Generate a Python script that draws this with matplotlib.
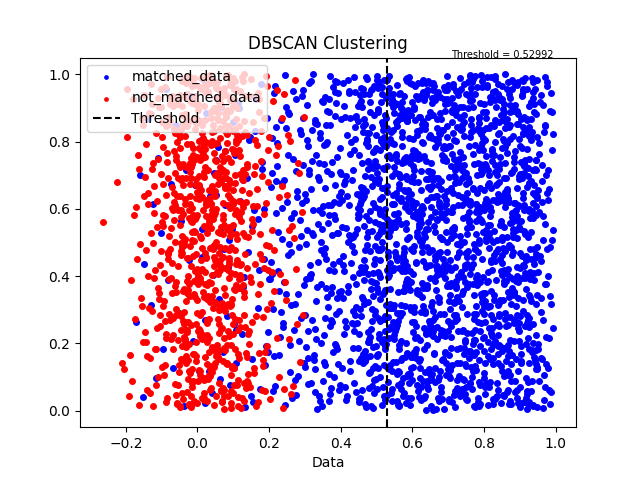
import numpy as np
import matplotlib
matplotlib.use('Agg')
from matplotlib import pyplot as plt

threshold = 0.52992

# point coordinates, in thousandths of a data unit
matched_x = [
    # right edge, thinning out
    951, 953, 955, 958, 960, 962, 963, 965, 967, 969, 970, 972, 974, 975, 977, 979, 981, 983, 985, 988, 990, 993,
    952, 956, 959, 961, 964, 966, 968, 971, 973, 976, 978, 980, 982, 986, 989, 994, 954, 957, 962, 967, 970, 974,
    978, 984, 987, 991, 950, 955, 960, 965, 971, 976, 981, 985, 992, 958, 964, 969,
    # far left, hidden under the red cloud
    -172, -161, -153, -148, -139, -131, -124, -117, -109, -102, -96, -88, -81, -75, -67, -59, -52, -46, -38, -31,
    -24, -19, -13, -8, -4,
    3, 9, 14, 22, 27, 35, 41, 48, 53, 60, 66, 71, 78, 84, 91, 97, 104, 109, 115, 122, 128, 133, 140, 146, 151, 158,
    163, 170, 176, 181, 187, 193, 198, 6, 18, 31, 44, 57, 69, 82, 95, 107, 119, 131, 144, 156, 168, 179, 191,
    12, 25, 38, 52, 64, 77, 89, 101, 113, 126, 138, 149, 161, 173, 185, 196, 20, 47, 73, 99, 125, 152, 178, 189,
    # 0.2 - 0.3
    201, 204, 208, 211, 214, 217, 220, 223, 226, 229, 232, 235, 238, 241, 244, 247, 250, 253, 256, 259, 262, 265,
    268, 271, 274, 277, 280, 283, 286, 289, 292, 295, 298, 202, 207, 212, 218, 224, 230, 236, 242, 248, 254, 260,
    266, 272, 278, 284, 290, 296, 205, 213, 221, 228, 237, 245, 252, 261, 269, 276, 285, 293, 299, 209, 219, 233,
    246, 258, 270, 281, 294, 216, 239, 257, 275, 288, 297,
    # 0.3 - 0.4
    300, 302, 305, 307, 310, 312, 315, 317, 320, 322, 325, 327, 330, 332, 335, 337, 340, 342, 345, 347, 350, 352,
    355, 357, 360, 362, 365, 367, 370, 372, 375, 377, 380, 382, 385, 387, 390, 392, 395, 397, 301, 304, 308, 311,
    314, 318, 321, 324, 328, 331, 334, 338, 341, 344, 348, 351, 354, 358, 361, 364, 368, 371, 374, 378, 381, 384,
    388, 391, 394, 398, 303, 309, 316, 323, 329, 336, 343, 349, 356, 363, 369, 376, 383, 389, 396, 306, 313, 319,
    326, 333, 339, 346, 353, 359, 366, 373, 379, 386, 393, 399, 304, 311, 321, 329, 338, 347, 356, 366, 374, 383,
    392, 336, 352, 368, 385, 397, 309, 327, 344, 361, 379, 395, 318, 355, 373, 389, 351, 358, 364, 371, 377, 384,
    390, 396, 353, 367, 381, 394,
    # 0.4 - 0.5
    400, 402, 404, 406, 408, 410, 412, 414, 416, 418, 420, 422, 424, 426, 428, 430, 432, 434, 436, 438, 440, 442,
    444, 446, 448, 450, 452, 454, 456, 458, 460, 462, 464, 466, 468, 470, 472, 474, 476, 478, 480, 482, 484, 486,
    488, 490, 492, 494, 496, 498, 401, 405, 409, 413, 417, 421, 425, 429, 433, 437, 441, 445, 449, 453, 457, 461,
    465, 469, 473, 477, 481, 485, 489, 493, 497, 403, 407, 411, 415, 419, 423, 427, 431, 435, 439, 443, 447, 451,
    455, 459, 463, 467, 471, 475, 479, 483, 487, 491, 495, 499, 404, 411, 418, 426, 433, 440, 447, 455, 462, 469,
    476, 484, 491, 498, 409, 422, 436, 449, 463, 477, 490, 451, 453, 455, 457, 459, 461, 463, 465, 467, 469, 471,
    473, 475, 477, 479, 481, 483, 485, 487, 489, 491, 493, 495, 497, 499, 452, 456, 460, 464, 468, 472, 476, 480,
    484, 488, 492, 496, 458, 466, 474, 482, 490, 498, 454, 470, 486, 431, 436, 441, 446, 451, 456, 461, 466, 471,
    476, 481, 486, 491, 496, 444, 459, 473, 488, 495, 438, 462, 480, 402, 414, 427, 439, 452, 465, 478, 493, 406,
    420, 434, 448, 467, 485, 497,
    # 0.5 - 0.95, the dense block
    500, 509, 517, 528, 535, 546, 553, 561, 572, 580, 589, 597, 606, 614, 625, 633, 641, 650, 658, 669, 677, 686,
    694, 703, 711, 720, 731, 739, 748, 756, 764, 773, 782, 790, 799, 808, 816, 825, 834, 842, 851, 859, 868, 877,
    885, 894, 903, 911, 920, 928, 937, 946,
    503, 511, 522, 530, 539, 548, 556, 565, 574, 583, 591, 600, 609, 618, 627, 636, 644, 653, 662, 671, 680, 688,
    697, 706, 715, 724, 733, 742, 751, 759, 768, 777, 786, 795, 803, 812, 821, 830, 839, 848, 856, 865, 874, 883,
    892, 900, 909, 918, 927, 935, 944,
    505, 514, 524, 533, 541, 550, 559, 568, 577, 586, 595, 603, 612, 621, 630, 639, 647, 656, 665, 674, 683, 692,
    700, 709, 718, 727, 736, 745, 754, 762, 771, 780, 789, 798, 806, 815, 824, 833, 842, 850, 859, 868, 877, 886,
    895, 903, 912, 921, 930, 939, 948,
    501, 507, 519, 526, 537, 543, 555, 562, 570, 581, 587, 598, 604, 616, 622, 634, 639, 651, 657, 668, 674, 685,
    691, 702, 708, 719, 725, 737, 743, 754, 760, 771, 777, 788, 794, 805, 811, 823, 829, 840, 846, 857, 863, 875,
    881, 892, 898, 909, 915, 926, 932, 943, 949,
    502, 513, 520, 531, 538, 549, 557, 566, 573, 584, 592, 601, 608, 619, 626, 637, 645, 654, 661, 672, 679, 690,
    698, 707, 714, 725, 732, 743, 750, 761, 769, 778, 785, 796, 804, 813, 820, 831, 838, 849, 857, 866, 873, 884,
    891, 902, 910, 919, 926, 937, 945,
    506, 515, 523, 532, 540, 551, 558, 567, 576, 585, 593, 602, 611, 620, 628, 637, 646, 655, 663, 672, 681, 690,
    699, 707, 716, 725, 734, 742, 751, 760, 769, 778, 786, 795, 804, 813, 821, 830, 839, 848, 857, 865, 874, 883,
    892, 900, 909, 918, 927, 936, 944,
    504, 510, 518, 529, 536, 544, 554, 563, 571, 579, 588, 596, 607, 615, 623, 632, 640, 649, 659, 666, 676, 684,
    693, 701, 710, 718, 728, 735, 745, 753, 762, 770, 779, 787, 797, 805, 814, 822, 832, 840, 849, 858, 866, 876,
    884, 893, 901, 911, 919, 929, 938, 947,
    508, 516, 525, 534, 542, 552, 560, 569, 578, 586, 594, 605, 613, 622, 631, 638, 648, 656, 664, 673, 682, 689,
    700, 708, 717, 726, 734, 744, 752, 761, 770, 779, 788, 796, 805, 814, 823, 832, 841, 849, 858, 867, 876, 885,
    894, 902, 911, 920, 929, 938, 946,
    500, 512, 521, 527, 539, 545, 556, 564, 575, 582, 590, 599, 610, 617, 629, 635, 643, 652, 660, 670, 678, 687,
    695, 705, 712, 722, 730, 740, 747, 757, 765, 774, 781, 791, 800, 807, 818, 826, 835, 843, 852, 861, 870, 878,
    887, 896, 905, 914, 923, 931, 940, 949,
    503, 509, 520, 528, 537, 547, 553, 564, 571, 580, 591, 598, 607, 616, 624, 633, 642, 651, 660, 668, 678, 686,
    696, 704, 713, 721, 730, 739, 748, 757, 765, 775, 783, 793, 801, 810, 819, 828, 836, 845, 854, 863, 872, 880,
    889, 898, 907, 916, 925, 933, 942,
    506, 517, 524, 535, 543, 551, 562, 570, 579, 588, 597, 605, 614, 624, 632, 640, 650, 659, 667, 675, 684, 694,
    702, 711, 719, 729, 738, 746, 755, 763, 772, 781, 790, 800, 808, 817, 826, 834, 843, 853, 862, 871, 879, 888,
    897, 906, 915, 923, 932, 941, 950,
    501, 511, 519, 530, 540, 548, 558, 567, 575, 585, 594, 603, 611, 619, 629, 638, 646, 656, 665, 673, 682, 692,
    699, 710, 717, 727, 736, 744, 754, 763, 771, 780, 789, 798, 807, 815, 825, 833, 842, 851, 861, 869, 878, 887,
    896, 905, 913, 922, 931, 940, 948,
    505, 513, 523, 532, 541, 550, 559, 568, 576, 585, 595, 604, 613, 621, 630, 640, 648, 657, 665, 675, 683, 693,
    701, 710, 720, 728, 737, 746, 755, 764, 773, 781, 791, 799, 808, 818, 826, 835, 844, 853, 862, 871, 880, 889,
    897, 907, 915, 924, 934, 942,
    502, 508, 518, 526, 536, 544, 555, 563, 572, 581, 589, 600, 609, 617, 626, 635, 645, 653, 662, 671, 680, 689,
    697, 706, 716, 724, 733, 742, 751, 760, 769, 777, 787, 795, 804, 813, 822, 831, 840, 848, 858, 866, 876, 884,
    893, 902, 911, 920, 928, 937, 946,
    504, 515, 522, 533, 539, 550, 557, 569, 577, 584, 593, 602, 612, 620, 628, 638, 647, 655, 664, 674, 681, 691,
    700, 708, 718, 726, 735, 744, 753, 762, 771, 780, 789, 797, 806, 816, 824, 833, 842, 851, 860, 869, 877, 887,
    895, 904, 913, 922, 931, 939, 948,
    507, 514, 526, 531, 545, 552, 561, 568, 580, 586, 596, 606, 615, 623, 634, 641, 652, 658, 669, 677, 687, 695,
    705, 713, 722, 731, 740, 750, 758, 767, 776, 785, 794, 802, 811, 820, 829, 838, 847, 855, 864, 873, 882, 891,
    899, 908, 917, 926, 935, 943,
    500, 510, 516, 527, 534, 545, 554, 562, 573, 581, 590, 599, 608, 617, 626, 634, 643, 653, 661, 670, 679, 688,
    696, 706, 714, 723, 732, 741, 750, 759, 767, 776, 786, 794, 803, 812, 821, 830, 838, 847, 856, 866, 874, 883,
    892, 901, 910, 919, 927, 936, 945,
    503, 512, 521, 529, 538, 547, 557, 565, 574, 583, 592, 601, 609, 618, 627, 637, 645, 654, 663, 672, 681, 690,
    698, 707, 716, 725, 734, 743, 752, 761, 770, 778, 787, 796, 805, 814, 823, 832, 841, 850, 858, 867, 876, 885,
    894, 903, 912, 921, 930, 938, 947,
    505, 511, 523, 530, 541, 548, 559, 566, 577, 584, 595, 602, 613, 620, 631, 638, 649, 656, 667, 674, 685, 692,
    703, 710, 721, 728, 739, 746, 757, 764, 775, 782, 793, 800, 811, 818, 829, 836, 847, 854, 865, 872, 883, 890,
    901, 908, 919, 926, 937, 944,
    508, 518, 525, 535, 543, 553, 561, 571, 579, 589, 597, 607, 615, 625, 633, 643, 651, 661, 669, 679, 687, 697,
    705, 715, 723, 733, 741, 751, 759, 769, 777, 787, 795, 805, 813, 823, 831, 841, 849, 859, 867, 877, 885, 895,
    903, 913, 921, 931, 939, 949,
    501, 509, 520, 527, 537, 546, 552, 563, 570, 580, 587, 596, 605, 614, 623, 632, 641, 650, 658, 667, 676, 685,
    694, 702, 711, 720, 729, 738, 747, 756, 764, 773, 782, 791, 800, 809, 817, 826, 835, 844, 853, 862, 870, 879,
    888, 897, 906, 915, 924, 932, 941,
    506, 514, 524, 531, 542, 549, 560, 567, 578, 585, 594, 604, 611, 621, 630, 639, 647, 657, 664, 673, 683, 690,
    700, 709, 717, 726, 735, 745, 753, 762, 772, 779, 789, 797, 806, 816, 824, 834, 843, 851, 860, 869, 878, 887,
    896, 905, 914, 923, 933, 940, 949,
    502, 515, 522, 533, 540, 551, 556, 569, 574, 582, 593, 600, 612, 618, 628, 636, 646, 652, 664, 670, 682, 688,
    699, 704, 717, 723, 733, 740, 752, 758, 768, 776, 787, 793, 804, 811, 822, 828, 839, 846, 857, 863, 875, 880,
    891, 899, 909, 917, 927, 934, 944,
    504, 513, 519, 528, 539, 546, 555, 564, 572, 583, 590, 601, 608, 619, 627, 635, 644, 655, 662, 671, 680, 689,
    698, 707, 715, 724, 733, 742, 750, 760, 768, 777, 786, 795, 804, 812, 821, 830, 839, 848, 857, 866, 874, 883,
    892, 901, 910, 919, 928, 936, 946,
    507, 517, 526, 534, 544, 553, 562, 571, 580, 588, 598, 606, 616, 624, 633, 642, 651, 660, 669, 678, 687, 696,
    705, 714, 722, 731, 741, 749, 758, 767, 776, 785, 794, 803, 812, 821, 830, 838, 847, 856, 865, 874, 883, 892,
    901, 909, 918, 927, 936, 945,
    500, 511, 518, 529, 536, 547, 554, 565, 572, 583, 590, 601, 608, 619, 626, 637, 644, 655, 662, 673, 680, 691,
    698, 709, 716, 727, 734, 745, 752, 763, 770, 781, 788, 799, 806, 817, 824, 835, 842, 853, 860, 871, 878, 889,
    896, 907, 914, 925, 932, 943,
    503, 510, 521, 530, 538, 550, 557, 567, 576, 586, 594, 603, 613, 621, 631, 639, 648, 658, 666, 675, 684, 693,
    702, 712, 719, 730, 738, 747, 756, 766, 774, 783, 792, 801, 810, 819, 828, 837, 846, 855, 864, 873, 882, 890,
    899, 908, 917, 926, 935, 944,
    505, 516, 523, 535, 541, 549, 560, 568, 578, 586, 596, 604, 613, 622, 631, 640, 649, 657, 668, 676, 685, 694,
    703, 712, 721, 730, 739, 748, 757, 766, 775, 784, 793, 802, 811, 820, 829, 838, 847, 856, 865, 874, 882, 891,
    900, 909, 918, 927, 936, 945,
]

matched_y = [
    412, 87, 763, 295, 938, 154, 621, 508, 33, 846, 377, 702, 219, 965, 481, 126, 659, 890, 342, 57, 774, 536, 198, 917, 445,
    683, 271, 8, 829, 554, 139, 976, 402, 715, 63, 318, 887, 247, 590, 461, 732, 105, 851, 376, 628, 19, 944, 507, 183, 796,
    334, 909, 72, 648, 215, 487, 823, 156, 579, 991, 263, 702, 41, 437, 868, 314, 615, 96, 752, 529, 183, 958, 389, 674, 127,
    851, 292, 563, 14, 716, 448, 935, 207, 671, 386, 118, 804, 541, 269, 982, 637, 52, 489, 745, 331, 903, 176, 612, 428, 77,
    539, 761, 240, 899, 365, 687, 11, 472, 814, 153, 597, 928, 306, 64, 719, 452, 871, 233, 658, 984, 117, 403, 785, 546, 282,
    967, 143, 624, 398, 805, 26, 571, 739, 193, 456, 886, 328, 642, 95, 773, 509, 257, 914, 368, 691, 45, 832, 419, 601, 174,
    23, 706, 481, 857, 229, 548, 971, 135, 393, 665, 812, 301, 944, 74, 589, 728, 416, 167, 863, 512, 248, 685, 998, 347, 621,
    462, 881, 196, 573, 37, 749, 318, 926, 654, 102, 487, 836, 275, 618, 953, 141, 392, 707, 58, 845, 531, 219, 678, 384, 902,
    760, 315, 952, 90, 634, 207, 519, 869, 441, 162, 795, 356, 603, 17, 888, 473, 241, 712, 566, 937, 129, 408, 682, 293, 840,
    115, 589, 348, 731, 966, 260, 497, 47, 823, 375, 644, 189, 909, 538, 80, 717, 433, 981, 271, 596, 152, 864, 325, 759, 4,
    695, 43, 812, 377, 540, 919, 224, 663, 136, 451, 798, 307, 583, 995, 68, 739, 264, 622, 415, 876, 191, 527, 945, 353, 710,
    286, 628, 157, 973, 404, 83, 744, 523, 856, 212, 369, 687, 30, 478, 921, 609, 146, 793, 337, 558, 889, 252, 703, 436, 99,
    571, 914, 335, 61, 782, 496, 237, 658, 1000, 123, 441, 825, 589, 276, 712, 49, 367, 948, 183, 617, 804, 394, 529, 167, 852,
    738, 202, 467, 849, 110, 613, 962, 289, 527, 76, 391, 705, 834, 244, 598, 15, 483, 927, 351, 672, 138, 556, 789, 419, 980,
    349, 787, 55, 502, 891, 176, 637, 408, 933, 271, 754, 89, 365, 612, 849, 523, 197, 976, 444, 734, 28, 581, 298, 866, 651,
    128, 460, 905, 227, 684, 31, 543, 819, 372, 950, 613, 149, 798, 438, 262, 716, 991, 83, 524, 307, 877, 645, 186, 409, 760,
    597, 959, 282, 737, 141, 418, 866, 21, 654, 493, 807, 233, 568, 942, 115, 386, 727, 302, 619, 54, 880, 451, 193, 703, 975,
    416, 71, 638, 353, 869, 514, 188, 775, 949, 262, 603, 39, 427, 846, 317, 697, 161, 530, 888, 243, 768, 92, 490, 626, 334,
    873, 249, 502, 946, 119, 686, 397, 807, 56, 573, 229, 914, 338, 661, 478, 12, 744, 205, 593, 957, 383, 132, 821, 546, 268,
    44, 762, 518, 285, 907, 637, 168, 426, 787, 953, 341, 95, 675, 522, 236, 860, 413, 718, 7, 580, 302, 938, 157, 651, 829,
    632, 388, 853, 152, 579, 986, 323, 741, 69, 475, 219, 696, 845, 409, 126, 965, 561, 286, 782, 35, 624, 903, 447, 178, 517,
    205, 826, 13, 668, 437, 297, 921, 550, 803, 164, 722, 381, 614, 991, 73, 489, 258, 874, 539, 147, 666, 333, 941, 795, 406,
    917, 534, 189, 743, 378, 61, 826, 266, 605, 472, 958, 113, 356, 699, 521, 843, 27, 639, 214, 772, 433, 982, 297, 585, 148,
    363, 682, 984, 101, 547, 841, 243, 419, 706, 18, 896, 312, 655, 481, 176, 762, 559, 931, 87, 394, 687, 250, 823, 452, 614,
    788, 136, 426, 952, 307, 621, 475, 867, 209, 38, 735, 598, 384, 919, 156, 671, 283, 507, 842, 63, 956, 344, 612, 193, 727,
    51, 573, 717, 226, 894, 399, 662, 131, 808, 545, 967, 283, 439, 24, 750, 612, 185, 873, 337, 518, 689, 96, 925, 460, 241,
    609, 928, 370, 805, 68, 492, 241, 675, 935, 117, 563, 832, 296, 734, 412, 183, 987, 645, 22, 378, 796, 557, 262, 890, 469,
    297, 448, 845, 576, 180, 961, 634, 32, 397, 752, 213, 587, 899, 355, 104, 682, 476, 819, 155, 947, 539, 268, 711, 6, 621,
    834, 175, 593, 419, 716, 238, 503, 879, 647, 81, 344, 964, 193, 776, 528, 311, 628, 42, 857, 405, 736, 164, 982, 572, 383,
    142, 707, 956, 327, 480, 815, 64, 601, 273, 929, 535, 118, 757, 423, 869, 201, 649, 970, 309, 584, 97, 853, 433, 698, 238,
    566, 29, 781, 394, 917, 253, 678, 141, 836, 502, 369, 997, 211, 615, 76, 452, 888, 307, 743, 534, 169, 925, 386, 658, 19,
    471, 853, 206, 632, 989, 343, 58, 719, 487, 166, 801, 579, 279, 941, 423, 108, 694, 357, 862, 516, 234, 773, 42, 609, 945,
    713, 322, 548, 90, 868, 437, 652, 188, 971, 274, 520, 817, 133, 406, 762, 591, 14, 889, 349, 676, 231, 952, 481, 118, 802,
    255, 910, 617, 401, 147, 733, 863, 26, 572, 318, 689, 943, 192, 460, 828, 545, 292, 66, 748, 417, 973, 606, 157, 873, 380,
    938, 471, 108, 785, 338, 589, 222, 916, 655, 47, 497, 769, 355, 631, 179, 902, 524, 85, 711, 264, 842, 449, 996, 313, 564,
    187, 642, 851, 269, 514, 72, 958, 405, 748, 618, 139, 887, 331, 533, 984, 217, 697, 457, 15, 814, 372, 596, 128, 759, 927,
    600, 39, 366, 819, 245, 693, 934, 512, 107, 428, 858, 286, 725, 956, 169, 543, 81, 661, 394, 870, 217, 630, 485, 779, 36,
    823, 516, 274, 977, 140, 590, 426, 703, 873, 59, 337, 948, 632, 216, 502, 788, 124, 419, 915, 268, 556, 741, 393, 17, 681,
    358, 752, 603, 1, 889, 231, 461, 795, 152, 639, 967, 380, 523, 92, 839, 710, 287, 996, 435, 174, 607, 349, 871, 528, 246,
    709, 195, 928, 476, 632, 87, 351, 852, 563, 736, 261, 412, 977, 124, 689, 538, 43, 804, 318, 642, 911, 183, 461, 755, 594,
    91, 438, 679, 312, 849, 560, 227, 965, 403, 118, 782, 626, 344, 25, 893, 471, 716, 209, 591, 941, 133, 377, 824, 657, 505,
    933, 274, 509, 718, 48, 385, 843, 167, 618, 976, 461, 253, 697, 532, 889, 10, 352, 774, 214, 570, 438, 904, 146, 661, 828,
    445, 811, 159, 586, 974, 295, 528, 73, 736, 394, 637, 885, 238, 502, 121, 963, 679, 327, 849, 51, 566, 423, 791, 265, 703,
    178, 621, 991, 344, 81, 753, 483, 866, 209, 540, 312, 697, 937, 39, 818, 593, 152, 406, 723, 282, 959, 615, 471, 116, 876,
    752, 367, 39, 897, 519, 656, 184, 953, 432, 271, 807, 99, 584, 745, 326, 929, 60, 469, 838, 203, 692, 545, 13, 374, 914,
    287, 963, 606, 140, 472, 826, 330, 691, 20, 577, 908, 237, 782, 396, 518, 867, 159, 655, 996, 448, 71, 729, 306, 584, 847,
    632, 97, 861, 415, 728, 251, 547, 983, 364, 112, 668, 805, 468, 35, 913, 237, 591, 748, 402, 873, 187, 526, 960, 289, 646,
    21, 531, 757, 246, 949, 388, 624, 179, 859, 492, 711, 56, 334, 982, 613, 271, 806, 435, 129, 678, 917, 359, 553, 798, 225,
    863, 313, 484, 690, 165, 902, 76, 571, 797, 429, 244, 954, 639, 336, 511, 744, 104, 889, 267, 613, 46, 425, 978, 173, 735,
    404, 719, 219, 993, 553, 36, 675, 330, 883, 147, 487, 816, 598, 262, 939, 411, 723, 88, 642, 365, 526, 849, 197, 760, 29,
    648, 195, 917, 382, 110, 761, 441, 590, 854, 297, 665, 13, 532, 948, 224, 788, 473, 128, 697, 339, 904, 572, 71, 815, 458,
    310, 873, 562, 49, 701, 418, 925, 258, 637, 784, 106, 486, 352, 968, 170, 598, 829, 393, 14, 746, 275, 662, 983, 521, 137,
    794, 449, 82, 655, 990, 307, 578, 218, 835, 471, 743, 124, 931, 385, 611, 56, 892, 268, 515, 696, 184, 412, 857, 31, 625,
    166, 702, 384, 812, 537, 85, 947, 626, 252, 462, 1000, 339, 589, 773, 119, 868, 429, 20, 684, 912, 344, 556, 205, 786, 473,
    919, 237, 633, 151, 414, 866, 300, 716, 58, 504, 839, 194, 607, 973, 429, 289, 755, 531, 96, 827, 372, 680, 237, 943, 560,
    64, 481, 775, 962, 326, 203, 594, 848, 143, 416, 693, 957, 280, 528, 37, 809, 648, 361, 905, 181, 453, 729, 586, 17, 871,
    521, 835, 245, 673, 45, 559, 387, 919, 216, 747, 490, 114, 981, 312, 636, 867, 70, 433, 785, 262, 607, 952, 142, 398, 706,
    376, 100, 942, 498, 797, 619, 164, 285, 731, 63, 879, 547, 353, 929, 208, 662, 423, 824, 5, 594, 259, 715, 477, 964, 135,
    757, 562, 306, 28, 880, 453, 699, 992, 129, 617, 348, 799, 229, 539, 915, 84, 672, 420, 173, 847, 592, 320, 733, 44, 972,
    232, 920, 658, 380, 151, 836, 513, 70, 761, 445, 289, 965, 606, 195, 708, 352, 881, 24, 533, 779, 402, 647, 124, 898, 477,
    879, 419, 52, 725, 569, 292, 936, 173, 644, 808, 349, 506, 89, 975, 254, 691, 429, 825, 155, 588, 34, 763, 386, 940, 611,
    139, 680, 849, 239, 472, 997, 98, 553, 312, 761, 622, 189, 898, 408, 29, 718, 537, 281, 843, 664, 141, 930, 467, 229, 792,
    601, 305, 926, 461, 119, 787, 652, 38, 382, 864, 516, 713, 247, 954, 575, 168, 419, 684, 4, 815, 301, 547, 878, 732, 95,
    468, 980, 197, 614, 856, 337, 81, 525, 771, 208, 932, 438, 651, 119, 366, 890, 564, 740, 27, 284, 817, 411, 984, 162, 629,
    813, 43, 546, 263, 706, 941, 415, 159, 633, 880, 294, 572, 72, 757, 486, 974, 222, 359, 605, 835, 141, 695, 529, 12, 399,
    348, 633, 899, 131, 496, 26, 784, 310, 968, 578, 194, 702, 451, 865, 251, 622, 981, 87, 545, 396, 746, 216, 917, 670, 480,
    962, 183, 415, 797, 614, 352, 871, 54, 512, 737, 264, 936, 126, 445, 688, 813, 296, 591, 39, 760, 955, 377, 219, 541, 844,
    57, 730, 579, 941, 273, 121, 662, 397, 840, 510, 19, 904, 321, 781, 621, 177, 463, 970, 246, 693, 524, 85, 829, 389, 639,
    708, 484, 273, 84, 915, 562, 744, 206, 427, 985, 360, 623, 833, 148, 506, 45, 714, 880, 280, 571, 406, 963, 125, 787, 322,
    284, 871, 634, 436, 178, 986, 11, 591, 348, 806, 670, 222, 462, 943, 551, 104, 767, 316, 895, 61, 609, 433, 724, 185, 990,
    583, 126, 807, 347, 669, 250, 943, 497, 18, 738, 616, 883, 406, 171, 556, 975, 290, 65, 812, 449, 693, 228, 927, 370, 661,
    910, 458, 187, 753, 34, 612, 836, 289, 508, 979, 142, 671, 357, 798, 226, 554, 887, 420, 106, 739, 580, 11, 329, 868, 481,
    201, 745, 978, 551, 313, 421, 66, 858, 703, 157, 605, 895, 264, 489, 764, 32, 925, 374, 636, 173, 841, 518, 287, 995, 447,
    647, 366, 104, 904, 469, 788, 232, 995, 574, 324, 71, 715, 441, 865, 193, 633, 912, 57, 398, 754, 263, 539, 826, 97, 601,
    16, 883, 517, 267, 835, 649, 405, 145, 762, 944, 290, 540, 83, 699, 966, 348, 584, 231, 872, 478, 128, 808, 660, 415, 953,
    729, 284, 642, 989, 91, 457, 829, 376, 596, 237, 913, 728, 155, 503, 43, 679, 808, 292, 942, 561, 386, 22, 703, 838, 249,
    452, 957, 170, 591, 720, 48, 363, 886, 256, 624, 473, 981, 108, 774, 531, 210, 860, 428, 659, 3, 937, 322, 577, 781, 165,
    895, 322, 748, 66, 434, 617, 977, 209, 842, 568, 111, 387, 663, 928, 255, 733, 44, 516, 807, 392, 154, 690, 979, 461, 277,
    174, 610, 413, 858, 237, 996, 544, 314, 78, 695, 881, 430, 161, 750, 591, 937, 364, 626, 92, 879, 214, 471, 745, 568, 30,
    539, 803, 59, 692, 383, 158, 925, 480, 737, 262, 602, 16, 849, 329, 971, 134, 418, 654, 889, 517, 286, 788, 951, 199, 676,
]

not_matched_x = [
    # left tail
    -265, -224, -212, -205, -198, -191, -186, -180, -175, -171, -167, -163, -160, -158, -155, -152, -150, -196,
    -183, -170, -162, -156, -178, -189, -151,
    -149, -147, -145, -143, -141, -139, -137, -135, -133, -131, -129, -127, -125, -123, -121, -119, -117, -115,
    -113, -111, -109, -107, -105, -103, -101, -99, -97, -95, -93, -91, -89, -87, -85, -83, -81, -146, -140, -134,
    -128, -122, -116, -110, -104, -98, -92, -86, -80, -118, -112, -106, -100, -94, -88, -82, -114, -102, -96, -90,
    -84, -108, -124, -130, -144, -138, -132, -126, -120, -111, -105, -99, -93, -87, -81, -95, -89, -83, -101, -97,
    -91, -85,
    # right tail
    141, 143, 145, 147, 149, 151, 153, 155, 157, 159, 161, 163, 165, 167, 169, 171, 173, 175, 177, 179, 181, 183,
    185, 187, 189, 191, 193, 195, 197, 199, 142, 146, 150, 154, 158, 162, 166, 170, 174, 178, 182, 186, 190, 194,
    198, 144, 152, 160, 168, 176, 184, 192, 200, 148, 156, 164, 172, 180, 188, 196, 203, 207, 211, 215, 219, 223,
    227, 231, 235, 239, 243, 247, 251, 255, 259, 263, 267, 271, 275, 279, 283, 287, 291, 297, 205, 213, 221, 229,
    237, 245, 253, 261, 270, 282, 294, 209, 225, 241, 257,
    # core
    -80, -76, -72, -69, -65, -61, -57, -53, -50, -46, -42, -38, -34, -31, -27, -23, -19, -15, -12, -8, -4, 0, 3, 7,
    11, 15, 19, 22, 26, 30, 34, 38, 41, 45, 49, 53, 57, 60, 64, 68, 72, 76, 79, 83, 87, 91, 95, 98, 102, 106, 110,
    114, 117, 121, 125, 129, 133, 136, 140,
    -78, -74, -70, -66, -63, -59, -55, -51, -47, -44, -40, -36, -32, -28, -25, -21, -17, -13, -9, -6, -2, 2, 5, 9,
    13, 17, 21, 24, 28, 32, 36, 39, 43, 47, 51, 55, 58, 62, 66, 70, 74, 77, 81, 85, 89, 93, 96, 100, 104, 108, 112,
    115, 119, 123, 127, 131, 134, 138,
    -79, -73, -68, -64, -58, -54, -49, -45, -39, -35, -30, -26, -20, -16, -11, -7, -1, 4, 8, 14, 18, 23, 27, 33, 37,
    42, 46, 52, 56, 61, 65, 71, 75, 80, 84, 90, 94, 99, 103, 109, 113, 118, 122, 128, 132, 137,
    -77, -71, -67, -62, -56, -52, -48, -43, -37, -33, -29, -24, -18, -14, -10, -5, 1, 6, 10, 16, 20, 25, 29, 35, 40,
    44, 48, 54, 59, 63, 67, 73, 78, 82, 86, 92, 97, 101, 105, 111, 116, 120, 124, 130, 135, 139,
    -75, -69, -64, -60, -55, -50, -45, -41, -36, -31, -26, -22, -17, -12, -7, -3, 2, 7, 12, 17, 21, 26, 31, 36, 41,
    45, 50, 55, 60, 64, 69, 74, 79, 83, 88, 93, 98, 103, 107, 112, 117, 122, 126, 131, 136,
    -80, -74, -68, -62, -57, -51, -45, -40, -34, -29, -23, -18, -12, -6, -1, 5, 10, 16, 21, 27, 32, 38, 43, 49, 54,
    60, 65, 71, 76, 82, 87, 93, 98, 104, 109, 115, 120, 126, 131, 137,
    -76, -70, -65, -59, -53, -48, -42, -37, -31, -25, -20, -14, -9, -3, 3, 8, 13, 19, 24, 30, 35, 41, 46, 52, 57,
    63, 68, 74, 79, 85, 90, 96, 101, 107, 112, 118, 123, 129, 134, 140,
    -72, -66, -61, -55, -49, -44, -38, -33, -27, -21, -16, -10, -4, 1, 6, 12, 17, 23, 28, 34, 39, 45, 50, 56, 61,
    67, 72, 78, 83, 89, 94, 100, 105, 111, 116, 122, 127, 133, 138,
    -50, -47, -43, -40, -36, -33, -29, -26, -22, -19, -15, -12, -8, -5, -1, 2, 6, 9, 13, 16, 20, 23, 27, 30, 34, 37,
    41, 44, 48, 51, 55, 58, 62, 65, 69, 72, 76, 79, 83, 86, 90, 93, 97, 100, 104, 107,
    -48, -44, -41, -37, -34, -30, -27, -23, -20, -16, -13, -9, -6, -2, 1, 5, 8, 12, 15, 19, 22, 26, 29, 33, 36, 40,
    43, 47, 50, 54, 57, 61, 64, 68, 71, 75, 78, 82, 85, 89, 92, 96, 99, 103, 106, 110,
    -46, -42, -38, -35, -31, -28, -24, -21, -17, -14, -10, -7, -3, 0, 4, 7, 11, 14, 18, 21, 25, 28, 32, 35, 39, 42,
    46, 49, 53, 56, 60, 63, 67, 70, 74, 77, 81, 84, 88, 91, 95, 98, 102, 105, 109,
    -45, -39, -32, -25, -18, -11, -4, 3, 10, 17, 24, 31, 38, 45, 52, 59, 66, 73, 80, 87, 94, 101, 108, -42, -35,
    -28, -21, -14, -7, 0, 7, 14, 21, 28, 35, 42, 49, 56, 63, 70, 77, 84, 91, 98, 105,
    -60, -53, -46, -39, -32, -25, -18, -11, -4, 3, 10, 17, 24, 31, 38, 45, 52, 59, 66, 73, 80, 87, 94, 101, 108,
    115, 122, -57, -43, -29, -15, -1, 13, 27, 41, 55, 69, 83, 97, 111, 125,
    -70, -63, -56, -49, -42, -35, -28, -21, -14, -7, 0, 7, 14, 21, 28, 35, 42, 49, 56, 63, 70, 77, 84, 91, 98, 105,
    112, 119, 126, 133,
    -66, -59, -52, -45, -38, -31, -24, -17, -10, -3, 4, 11, 18, 25, 32, 39, 46, 53, 60, 67, 74, 81, 88, 95, 102,
    109, 116, 123, 130, 137,
]

not_matched_y = [
    562, 681, 142, 124, 813, 45, 390, 927, 273, 605, 759, 18, 496, 336, 871, 204, 638, 957, 87, 452, 719, 311, 583, 166, 849,
    938, 235, 477, 793, 61, 614, 401, 885, 157, 528, 972, 296, 738, 13, 667, 419, 825, 183, 546, 99, 364, 904, 251, 703, 476,
    129, 783, 548, 326, 964, 217, 641, 38, 872, 451, 695, 163, 306, 913, 589, 77, 747, 432, 859, 268, 992, 520, 184, 623, 350,
    815, 409, 26, 693, 247, 957, 583, 137, 766, 331, 498, 882, 205, 646, 54, 718, 394, 931, 285, 562, 106, 847, 471, 673, 229,
    465, 902, 311, 579, 741, 83, 646, 197, 398, 987, 535, 264, 859, 127, 703, 437, 15, 610, 789, 347, 926, 172, 526, 832, 61,
    697, 152, 870, 425, 58, 619, 966, 303, 775, 491, 228, 937, 384, 554, 111, 806, 660, 27, 467, 742, 279, 585, 996, 193, 418,
    238, 571, 728, 946, 376, 133, 493, 814, 71, 609, 282, 889, 450, 175, 680, 35, 538, 921, 357, 761, 217, 635, 406, 869, 8,
    943, 330, 642, 212, 803, 548, 73, 983, 421, 257, 706, 145, 592, 874, 321, 479, 953, 101, 667, 383, 821, 51, 515, 738, 286,
    412, 786, 65, 537, 289, 912, 664, 185, 838, 354, 24, 597, 725, 462, 979, 219, 616, 881, 94, 344, 752, 507, 168, 936, 633,
    754, 120, 395, 861, 598, 33, 724, 271, 949, 483, 615, 189, 832, 359, 502, 673, 81, 915, 246, 569, 425, 995, 143, 687, 312,
    22, 657, 913, 274, 447, 805, 158, 591, 992, 338, 703, 67, 516, 860, 212, 439, 771, 613, 301, 925, 115, 474, 846, 586, 240,
    875, 349, 197, 730, 563, 88, 988, 414, 651, 236, 802, 514, 37, 694, 377, 944, 261, 558, 124, 789, 650, 429, 900, 184, 532,
    304, 951, 581, 43, 669, 828, 237, 479, 741, 128, 906, 358, 596, 15, 775, 434, 657, 980, 286, 519, 88, 853, 395, 224, 708,
    639, 76, 821, 498, 266, 935, 385, 150, 711, 560, 29, 865, 422, 671, 963, 212, 548, 798, 334, 105, 614, 891, 457, 743, 174,
    180, 709, 456, 960, 142, 613, 890, 313, 53, 767, 524, 241, 952, 396, 687, 830, 161, 482, 928, 597, 372, 19, 735, 551, 878,
    508, 867, 263, 378, 794, 19, 535, 671, 911, 226, 449, 762, 95, 627, 341, 987, 183, 851, 587, 412, 299, 725, 61, 945, 662,
    795, 318, 602, 132, 958, 477, 819, 364, 248, 688, 1000, 171, 423, 544, 907, 79, 745, 290, 639, 837, 495, 212, 974, 358, 112,
    44, 582, 912, 689, 405, 223, 757, 97, 864, 331, 568, 973, 486, 131, 652, 796, 257, 418, 937, 62, 711, 539, 846, 196, 615,
    927, 437, 168, 847, 563, 717, 28, 620, 391, 933, 276, 502, 799, 137, 686, 356, 883, 241, 574, 12, 460, 967, 328, 648, 775,
    353, 755, 994, 216, 69, 481, 638, 871, 155, 547, 742, 308, 894, 436, 8, 623, 185, 957, 392, 705, 528, 81, 819, 269, 604,
    621, 48, 431, 782, 905, 294, 143, 596, 738, 965, 387, 203, 667, 519, 827, 90, 456, 716, 986, 341, 581, 176, 863, 433, 30,
    188, 848, 662, 520, 331, 957, 773, 41, 404, 617, 862, 249, 108, 936, 566, 384, 693, 815, 152, 493, 991, 264, 637, 72, 746,
    856, 377, 105, 634, 789, 454, 226, 998, 582, 17, 745, 317, 918, 679, 147, 483, 824, 395, 60, 551, 702, 899, 269, 435, 607,
    467, 726, 940, 283, 53, 671, 511, 190, 847, 402, 614, 979, 125, 761, 338, 576, 22, 893, 237, 657, 484, 812, 159, 965, 374,
    94, 633, 381, 828, 569, 141, 932, 706, 274, 486, 58, 757, 619, 343, 882, 196, 997, 534, 411, 777, 228, 676, 867, 12, 521,
    733, 259, 817, 56, 455, 996, 342, 604, 782, 170, 531, 913, 87, 648, 386, 851, 225, 710, 469, 29, 949, 573, 133, 801, 305,
    589, 972, 195, 408, 692, 810, 25, 526, 366, 884, 139, 751, 453, 969, 284, 617, 78, 838, 510, 241, 693, 361, 934, 163, 793,
    16, 490, 725, 915, 347, 577, 164, 867, 631, 286, 989, 420, 54, 779, 545, 203, 657, 322, 887, 115, 766, 448, 601, 957, 232,
    840, 307, 67, 553, 773, 938, 418, 221, 678, 488, 832, 126, 980, 373, 596, 35, 724, 860, 255, 506, 149, 697, 419, 907, 578,
    273, 614, 899, 163, 435, 712, 5, 848, 547, 318, 776, 952, 191, 630, 454, 922, 83, 571, 391, 746, 294, 968, 528, 103, 669,
    702, 160, 529, 861, 298, 44, 633, 988, 407, 756, 211, 575, 853, 326, 119, 691, 924, 467, 243, 802, 37, 619, 382, 871, 494,
    961, 416, 243, 691, 872, 538, 107, 362, 797, 624, 9, 912, 487, 235, 735, 581, 859, 140, 403, 977, 320, 669, 549, 76, 818,
    349, 827, 601, 14, 468, 206, 943, 674, 531, 839, 291, 117, 752, 413, 986, 62, 597, 324, 885, 448, 715, 182, 641, 924, 259,
    586, 92, 758, 373, 937, 647, 285, 820, 153, 503, 693, 21, 431, 869, 258, 782, 958, 338, 611, 176, 543, 793, 45, 469, 906,
    217, 691, 446, 979, 126, 806, 576, 39, 354, 733, 914, 268, 627, 491, 66, 845, 392, 719, 183, 972, 509, 287, 654, 832, 118,
]

n = min(len(matched_x), len(matched_y))
mx = np.array(matched_x[:n]) / 1000
my = np.array(matched_y[:n]) / 1000
k = min(len(not_matched_x), len(not_matched_y))
nx = np.array(not_matched_x[:k]) / 1000
ny = np.array(not_matched_y[:k]) / 1000

fig, ax = plt.subplots(figsize=(6.4, 4.8), dpi=100)
plt.scatter(mx, my, s=16, c='blue', label='matched_data')
plt.scatter(nx, ny, s=16, c='red', label='not_matched_data')
plt.axvline(threshold, color='black', linestyle='--', label='Threshold')
plt.text(0.85, 1.05, f'Threshold = {threshold}', fontsize=7, ha='center')
plt.title('DBSCAN Clustering')
plt.xlabel('Data')
plt.legend(loc='upper left', markerscale=0.6)
plt.savefig('out.png')
